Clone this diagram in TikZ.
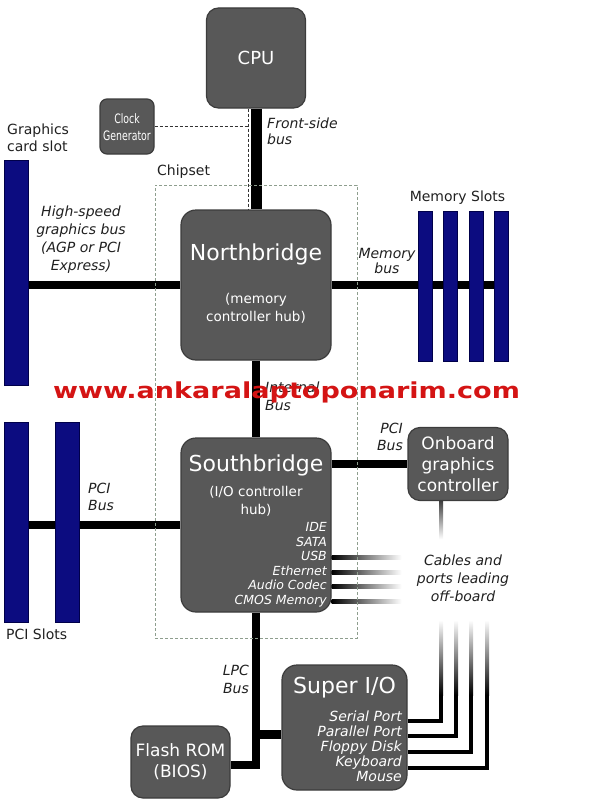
\documentclass[tikz,border=0pt]{standalone}
\usepackage{fontspec}
\setmainfont{DejaVu Sans}
\usepackage{tikz}
\usepackage{xcolor}

\definecolor{chipfill}{HTML}{585858}
\definecolor{chipedge}{HTML}{3C3C3C}
\definecolor{slotfill}{HTML}{0C0C80}
\definecolor{slotedge}{HTML}{00004A}
\definecolor{setline}{HTML}{8E9E8E}
\definecolor{labeltext}{HTML}{202020}
\definecolor{wmred}{HTML}{D41414}

\pgfdeclarelayer{back}
\pgfsetlayers{back,main}

\tikzset{
  chip/.style={draw=chipedge, line width=1.2pt, fill=chipfill, rounded corners=12pt,
    text=white, align=center, inner sep=0pt},
  slot/.style={draw=slotedge, line width=1pt, fill=slotfill, inner sep=0pt},
  bus/.style={line width=8.5pt, black},
  fsbbus/.style={line width=11pt, black},
  cable/.style={line width=4pt, black},
  buslabel/.style={font=\fontsize{14}{17}\selectfont\itshape, text=labeltext, inner sep=0pt},
  plainlabel/.style={font=\fontsize{14}{17}\selectfont, text=labeltext, inner sep=0pt},
  chiptitle/.style={font=\fontsize{22}{26}\selectfont, text=white, inner sep=0pt},
  chipsub/.style={font=\fontsize{13.5}{18}\selectfont, text=white, align=center, inner sep=0pt},
  sbport/.style={font=\fontsize{12.5}{14}\selectfont\itshape, text=white, inner sep=0pt,
    anchor=east, text height=9pt, text depth=2.5pt},
  sioport/.style={font=\fontsize{14}{15}\selectfont\itshape, text=white, inner sep=0pt,
    anchor=east, text height=10pt, text depth=3pt},
  clockline/.style={draw=black!80, line width=0.8pt, dash pattern=on 3pt off 2pt},
  chipset/.style={draw=setline, line width=0.8pt, dash pattern=on 3pt off 2pt, inner sep=0pt},
}

\begin{document}
\begin{tikzpicture}[x=1pt,y=-1pt]
        \useasboundingbox (0,0) rectangle (606,800);
        % chips
        \draw (256,58) node[chip,minimum width=99,minimum height=100,font=\fontsize{18}{22}\selectfont](cpu) {CPU};
        \draw (127,126.5) node[chip,minimum width=54,minimum height=55,rounded corners=7pt](clk) {};
        \draw (127,127) node[xscale=0.72,transform shape,font=\fontsize{13}{17}\selectfont,text=white,align=center,inner sep=0pt](clktext) {Clock\\Generator};
        \draw (256,285) node[chip,minimum width=150,minimum height=150,rounded corners=15pt](nb) {};
        \draw (256,254) node[chiptitle](nbtitle) {Northbridge};
        \draw (256,308) node[chipsub](nbsub) {(memory\\controller hub)};
        \draw (256,525) node[chip,minimum width=150,minimum height=174,rounded corners=15pt](sb) {};
        \draw (256,465) node[chiptitle](sbtitle) {Southbridge};
        \draw (256,501) node[chipsub](sbsub) {(I/O controller\\hub)};
        \draw (327,528) node[sbport](ide) {IDE};
        \draw (327,543) node[sbport](sata) {SATA};
        \draw (327,557) node[sbport](usb) {USB};
        \draw (327,572) node[sbport](eth) {Ethernet};
        \draw (327,586) node[sbport](audio) {Audio Codec};
        \draw (327,601) node[sbport](cmos) {CMOS Memory};
        \draw (458,464) node[chip,minimum width=100,minimum height=73,font=\fontsize{17}{21}\selectfont](og) {Onboard\\graphics\\controller};
        \draw (180.5,762) node[chip,minimum width=99,minimum height=72,font=\fontsize{17}{21}\selectfont](flash) {Flash ROM\\(BIOS)};
        \draw (344.5,727.5) node[chip,minimum width=125,minimum height=125,rounded corners=15pt](sio) {};
        \draw (344.5,688) node[chiptitle](siotitle) {Super I/O};
        \draw (402,718) node[sioport](serial) {Serial Port};
        \draw (402,733) node[sioport](parallel) {Parallel Port};
        \draw (402,748) node[sioport](floppy) {Floppy Disk};
        \draw (402,763) node[sioport](keyboard) {Keyboard};
        \draw (402,778) node[sioport](mouse) {Mouse};
        % slots
        \draw (16,272.5) node[slot,minimum width=24,minimum height=225](gslot) {};
        \draw (16,522) node[slot,minimum width=24,minimum height=200](pci1) {};
        \draw (67,522) node[slot,minimum width=24,minimum height=200](pci2) {};
        \draw (425,286) node[slot,minimum width=14,minimum height=150](mem1) {};
        \draw (450.5,286) node[slot,minimum width=14,minimum height=150](mem2) {};
        \draw (476,286) node[slot,minimum width=14,minimum height=150](mem3) {};
        \draw (501,286) node[slot,minimum width=14,minimum height=150](mem4) {};
        \draw (256,411.5) node[chipset,minimum width=202,minimum height=453](chipset) {};
        % buses
        \begin{pgfonlayer}{back}
        \draw[fsbbus] (cpu.south) -- (nb.north);
        \draw[bus] (nb.south) -- (sb.north);
        \draw[bus] (nb.west) -- (gslot.center |- nb.west);
        \draw[bus] (nb.east) -- (mem4.center |- nb.east);
        \draw[bus] (sb.west) -- (pci1.center |- sb.west);
        \draw[bus] (sb.east |- og.west) -- (og.west);
        \draw[bus] (sb.south) |- ([yshift=-3pt]flash.east);
        \draw[bus] ([yshift=-7pt]sio.west) -- ([yshift=-7pt]sio.west -| sb.south);
        \shade[left color=black,middle color=black!75,right color=white] (sb.east |- usb) ++(0,-2) rectangle ++(70,4);
        \shade[left color=black,middle color=black!75,right color=white] (sb.east |- eth) ++(0,-2) rectangle ++(70,4);
        \shade[left color=black,middle color=black!75,right color=white] (sb.east |- audio) ++(0,-2) rectangle ++(70,4);
        \shade[left color=black,middle color=black!75,right color=white] (sb.east |- cmos) ++(0,-2) rectangle ++(70,4);
        \shade[top color=black!75,bottom color=white] ([xshift=-17pt]og.south) ++(-2,0) rectangle ++(4,38);
        \end{pgfonlayer}
        % super i/o cables
        \coordinate (serialup) at (441,695);
        \coordinate (parallelup) at (456,695);
        \coordinate (floppyup) at (471,695);
        \coordinate (keyboardup) at (487,695);
        \draw[cable] (sio.east |- serial) ++(0,3) -| (serialup);
        \draw[cable] (sio.east |- parallel) ++(0,3) -| (parallelup);
        \draw[cable] (sio.east |- floppy) ++(0,4) -| (floppyup);
        \draw[cable] (sio.east |- keyboard) ++(0,5) -| (keyboardup);
        \shade[top color=white,bottom color=black] (serialup) ++(-2,0) rectangle ++(4,-75);
        \shade[top color=white,bottom color=black] (parallelup) ++(-2,0) rectangle ++(4,-75);
        \shade[top color=white,bottom color=black] (floppyup) ++(-2,0) rectangle ++(4,-75);
        \shade[top color=white,bottom color=black] (keyboardup) ++(-2,0) rectangle ++(4,-75);
        % clock line
        \coordinate (fsbdash) at ([xshift=-8pt]cpu.south);
        \draw[clockline] (fsbdash) -- ([xshift=-8pt]nb.north);
        \draw[clockline] (clk.east) -- (clk.east -| fsbdash);
        % labels
        \draw (267,131) node[buslabel,anchor=west,align=left,font=\fontsize{14}{16}\selectfont\itshape](fsblabel) {Front-side\\bus};
        \draw (7,138) node[plainlabel,anchor=west,align=left](gslotlabel) {Graphics\\card slot};
        \draw (157,172) node[plainlabel,anchor=west](chipsetlabel) {Chipset};
        \draw (81,240) node[buslabel,align=center,font=\fontsize{14}{18}\selectfont\itshape](agplabel) {High-speed\\graphics bus\\(AGP or PCI\\Express)};
        \draw (387,261) node[buslabel,align=center,font=\fontsize{14}{15}\selectfont\itshape](memlabel) {Memory\\bus};
        \draw (457.5,198) node[plainlabel](memslotlabel) {Memory Slots};
        \draw (265,396) node[buslabel,anchor=west,align=left,font=\fontsize{14}{18}\selectfont\itshape](intlabel) {Internal\\Bus};
        \draw (403,437) node[buslabel,anchor=east,align=right](pciuplabel) {PCI\\Bus};
        \draw (88,497) node[buslabel,anchor=west,align=left](pcilabel) {PCI\\Bus};
        \draw (6,634) node[plainlabel,anchor=west](pcislotlabel) {PCI Slots};
        \draw (463,578) node[buslabel,align=center,font=\fontsize{14}{18}\selectfont\itshape](cablelabel) {Cables and\\ports leading\\off-board};
        \draw (249,679) node[buslabel,anchor=east,align=right,font=\fontsize{14}{18}\selectfont\itshape](lpclabel) {LPC\\Bus};
        % watermark
        \draw (286.5,392) node[font=\fontsize{22}{26}\selectfont\bfseries,text=wmred,xscale=1.23,transform shape,inner sep=0pt](wm) {www.ankaralaptoponarim.com};
    \end{tikzpicture}
\end{document}
